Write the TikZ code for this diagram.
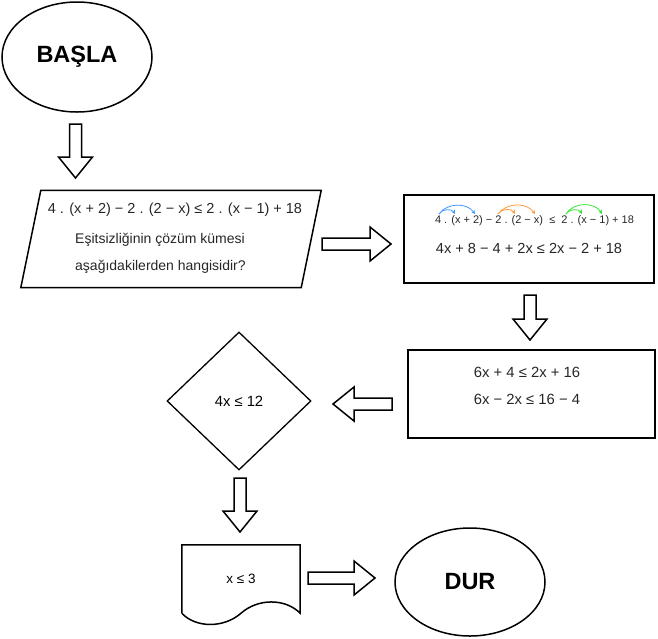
\documentclass[tikz,border=0pt]{standalone}
\usepackage{fontspec}
\setmainfont{Liberation Sans}
\usetikzlibrary{shapes.geometric,calc,arrows.meta,positioning}
\tikzstyle{terminal} = [ellipse, draw=black, line width=1.5pt, minimum width=150pt, minimum height=110pt, font=\bfseries\fontsize{23.5}{27}\selectfont]
\tikzstyle{process} = [rectangle, draw=black, line width=1.8pt, minimum width=250pt, minimum height=88pt]
\tikzstyle{decision} = [diamond, draw=black, line width=1.3pt, minimum width=144pt, minimum height=138pt, inner sep=0pt]
\tikzstyle{hollow} = [draw=black, line width=1.5pt, fill=white, line join=miter]
\tikzstyle{curl} = [line width=0.8pt, -{Stealth[length=4pt,width=4pt]}]
\tikzstyle{txt} = [inner sep=0pt, text=black!85]
\definecolor{arcblue}{HTML}{3D9BFF}
\definecolor{arcorange}{HTML}{FF9A3C}
\definecolor{arcgreen}{HTML}{33E633}

% hollow block arrow from #1 to #2
\newcommand{\fatarrow}[2]{%
 \coordinate (fa-h) at ($(#2)!21pt!(#1)$);
 \draw[hollow] ($(#1)!6pt!90:(#2)$) -- ($(fa-h)!6pt!90:(#2)$) -- ($(fa-h)!17pt!90:(#2)$) -- (#2)
   -- ($(fa-h)!17pt!-90:(#2)$) -- ($(fa-h)!6pt!-90:(#2)$) -- ($(#1)!6pt!-90:(#2)$) -- cycle;}

\begin{document}
\begin{tikzpicture}[x=1pt, y=-1pt]
 \useasboundingbox (0,0) rectangle (658,638);

 % start
 \node (start) [terminal] at (77,57) {BAŞLA};

 % question (parallelogram)
 \node (quest) [minimum width=280pt, minimum height=97pt] at (171,239) {};
 \draw[line width=1.5pt] ([xshift=10pt]quest.north west) -- ([xshift=10pt]quest.north east)
   -- ([xshift=-10pt]quest.south east) -- ([xshift=-10pt]quest.south west) -- cycle;
 \node (q1) [txt, font=\fontsize{14.5}{17}\selectfont] at (175,210) {4 . (x + 2) − 2 . (2 − x) ≤ 2 . (x − 1) + 18};
 \node (q2) [txt, anchor=west, font=\fontsize{14}{17}\selectfont] at (75,240) {Eşitsizliğinin çözüm kümesi};
 \node (q3) [txt, anchor=west, font=\fontsize{14}{17}\selectfont] at (75,267) {aşağıdakilerden hangisidir?};

 % first step
 \node (box1) [process] at (529,239) {};
 \node (s0) [txt, font=\fontsize{11}{13}\selectfont] at (534.5,221) {4 . (x + 2) − 2 . (2 − x) \ ≤ \ 2 . (x − 1) + 18};
 \node (s1) [txt, font=\fontsize{14.6}{17}\selectfont] at (529,248) {4x + 8 − 4 + 2x ≤ 2x − 2 + 18};
 \coordinate (bl0) at (439,214);
 \coordinate (bl1) at (455,214);
 \coordinate (bl2) at (475,214);
 \coordinate (or0) at (498,214);
 \coordinate (or1) at (515,214);
 \coordinate (or2) at (535,214);
 \coordinate (gr0) at (566,214);
 \coordinate (gr1) at (582,214);
 \coordinate (gr2) at (602,214);
 \draw[curl, arcblue] (bl0) to[bend left=60] (bl1);
 \draw[curl, arcblue] (bl0) to[bend left=55] (bl2);
 \draw[curl, arcorange] (or0) to[bend left=60] (or1);
 \draw[curl, arcorange] (or0) to[bend left=55] (or2);
 \draw[curl, arcgreen] (gr0) to[bend left=60] (gr1);
 \draw[curl, arcgreen] (gr0) to[bend left=60] (gr2);

 % second step
 \node (box2) [process, minimum width=247pt] at (531.5,394) {};
 \node (t1) [txt, font=\fontsize{14.8}{17}\selectfont] at (527,372) {6x + 4 ≤ 2x + 16};
 \node (t2) [txt, font=\fontsize{14.8}{17}\selectfont] at (527,399) {6x − 2x ≤ 16 − 4};

 % decision
 \node (dec) [decision, font=\fontsize{14.8}{17}\selectfont] at (239,401) {4x ≤ 12};

 % output (document)
 \node (out) [minimum width=118pt, minimum height=68pt, font=\fontsize{13.5}{16}\selectfont] at (241,579) {x ≤ 3};
 \draw[line width=1.5pt] (out.south west) -- (out.north west) -- (out.north east) -- (out.south east)
   .. controls +(-15,-15) and +(17,-15) .. (out.south)
   .. controls +(-17,15) and +(14,15) .. (out.south west);

 % stop
 \node (stop) [terminal, minimum height=108pt] at (470,582) {DUR};

 % block arrows
 \coordinate (a1s) at (75.5,124);
 \coordinate (a1e) at (75.5,178);
 \coordinate (a2s) at (322,244);
 \coordinate (a2e) at (391,244);
 \coordinate (a3s) at (530,295);
 \coordinate (a3e) at (530,340);
 \coordinate (a4s) at (392,404);
 \coordinate (a4e) at (333,404);
 \coordinate (a5s) at (240,478);
 \coordinate (a5e) at (240,532);
 \coordinate (a6s) at (308,578);
 \coordinate (a6e) at (375,578);
 \fatarrow{a1s}{a1e}
 \fatarrow{a2s}{a2e}
 \fatarrow{a3s}{a3e}
 \fatarrow{a4s}{a4e}
 \fatarrow{a5s}{a5e}
 \fatarrow{a6s}{a6e}
\end{tikzpicture}
\end{document}
